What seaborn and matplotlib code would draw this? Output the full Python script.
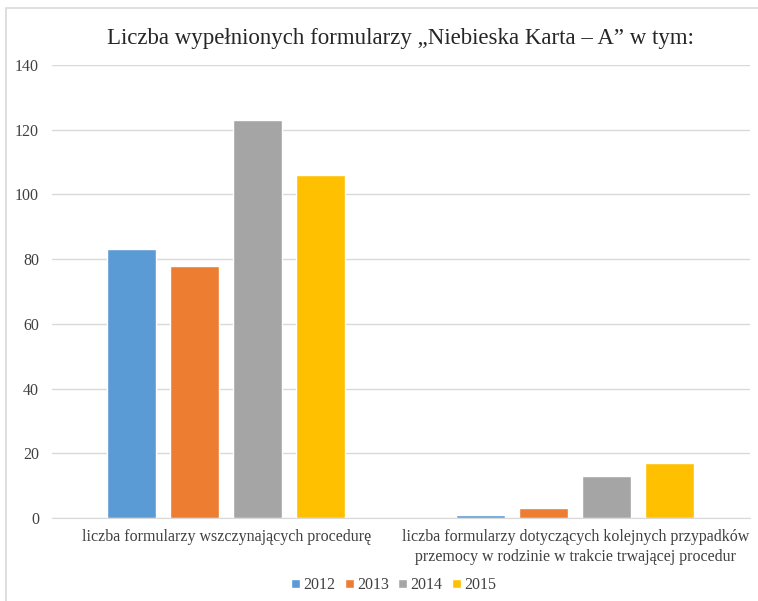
import pandas as pd
import matplotlib.pyplot as plt
import seaborn as sns
from matplotlib.patches import Rectangle

# data
categories = [
    "liczba formularzy wszczynających procedurę",
    "liczba formularzy dotyczących kolejnych przypadków\nprzemocy w rodzinie w trakcie trwającej procedur",
]
years = ["2012", "2013", "2014", "2015"]
values_2012 = [83, 1]
values_2013 = [78, 3]
values_2014 = [123, 13]
values_2015 = [106, 17]
y_ticks = [0, 20, 40, 60, 80, 100, 120, 140]
colors = ["#5B9BD5", "#ED7D31", "#A5A5A5", "#FFC000"]

df = pd.DataFrame({
    "kategoria": categories * 4,
    "rok": [y for y in years for _ in categories],
    "liczba": values_2012 + values_2013 + values_2014 + values_2015,
})

sns.set_style("white")
plt.rcParams["font.family"] = ["Liberation Serif", "DejaVu Serif"]

fig = plt.figure(figsize=(7.58, 6.01), dpi=100)
ax = fig.add_axes([0.068, 0.138, 0.921, 0.754])

sns.barplot(data=df, x="kategoria", y="liczba", hue="rok", palette=colors,
            width=0.722, gap=0.22, saturation=1, ax=ax, legend=True)

ax.set_ylim(0, 140)
ax.set_yticks(y_ticks)
ax.yaxis.grid(True, color="#D9D9D9", linewidth=1)
ax.set_axisbelow(True)
for s in ["left", "right", "top"]:
    ax.spines[s].set_visible(False)
ax.spines["bottom"].set_color("#D9D9D9")
ax.tick_params(axis="y", length=0, labelsize=11.5, colors="#404040", pad=9)
ax.tick_params(axis="x", length=0, labelsize=11.5, colors="#404040", pad=8)
for lab in ax.get_xticklabels():
    lab.set_linespacing(1.35)
ax.set_xlabel(None)
ax.set_ylabel(None)

fig.text(0.529, 0.936, "Liczba wypełnionych formularzy „Niebieska Karta – A” w tym:",
         ha="center", va="center", fontsize=16.5, color="#262626")

leg = ax.legend(loc="center", bbox_to_anchor=(0.49, -0.148), ncol=4, frameon=False,
                fontsize=11.5, handlelength=0.55, handleheight=0.55,
                handletextpad=0.2, columnspacing=0.6)
for t in leg.get_texts():
    t.set_color("#404040")

# chart frame
fig.patches.append(Rectangle((6 / 758, -0.05), 1.0, 1 - 8 / 601 + 0.05,
                             transform=fig.transFigure, fill=False,
                             edgecolor="#D9D9D9", linewidth=1.2))

fig.savefig("out.png", dpi=100)
